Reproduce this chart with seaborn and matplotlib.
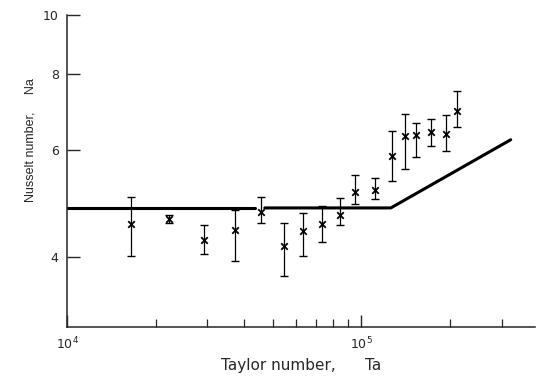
import numpy as np
import pandas as pd
import matplotlib
matplotlib.use("Agg")
import matplotlib.pyplot as plt
import seaborn as sns
from matplotlib.ticker import FixedLocator, NullLocator, LogLocator, FixedFormatter, NullFormatter

# measured points (Taylor number, Nusselt number, error bar limits)
taylor = [1.65e4, 2.22e4, 2.91e4, 3.73e4, 4.55e4, 5.45e4, 6.34e4, 7.38e4, 8.44e4,
          9.55e4, 1.11e5, 1.27e5, 1.41e5, 1.54e5, 1.72e5, 1.94e5, 2.12e5]
nusselt = [4.53, 4.61, 4.26, 4.43, 4.73, 4.16, 4.40, 4.52, 4.69,
           5.11, 5.15, 5.86, 6.31, 6.34, 6.42, 6.37, 6.96]
nu_upper = [5.02, 4.69, 4.50, 4.78, 5.01, 4.54, 4.71, 4.85, 4.99,
            5.45, 5.39, 6.45, 6.88, 6.64, 6.75, 6.85, 7.51]
nu_lower = [4.01, 4.54, 4.04, 3.94, 4.55, 3.72, 4.01, 4.23, 4.50,
            4.89, 4.98, 5.33, 5.58, 5.83, 6.09, 5.98, 6.55]

# theory line (two pieces, small break near 4.5e4 as in the original)
line_ta = [1.0e4, 4.35e4, 4.7e4, 1.26e5, 3.22e5]
line_nu = [4.81, 4.81, 4.81, 4.81, 6.23]
line_seg = [0, 0, 1, 1, 1]

sns.set_style("ticks")
plt.rcParams["font.family"] = ["DejaVu Sans"]

fig = plt.figure(figsize=(5.45, 3.76), dpi=100)
ax = fig.add_axes([0.123, 0.130, 0.859, 0.830])

lines_df = pd.DataFrame({"Ta": line_ta, "Nu": line_nu, "seg": line_seg})
sns.lineplot(data=lines_df, x="Ta", y="Nu", units="seg", estimator=None, sort=False,
             color="black", linewidth=2.2, ax=ax)

pts = pd.DataFrame({"Ta": taylor, "Nu": nusselt})
yerr = np.array([np.array(nusselt) - np.array(nu_lower),
                 np.array(nu_upper) - np.array(nusselt)])
ax.errorbar(taylor, nusselt, yerr=yerr, fmt="none", ecolor="black",
            elinewidth=0.9, capsize=2.6, capthick=1.0)
sns.scatterplot(data=pts, x="Ta", y="Nu", marker="x", color="black", s=22,
                linewidth=1.3, ax=ax, zorder=3)

ax.set_xscale("log")
ax.set_yscale("log")
ax.set_xlim(1e4, 3.9e5)
ax.set_ylim(3.06, 10)

ax.yaxis.set_major_locator(FixedLocator([4, 6, 8, 10]))
ax.yaxis.set_major_formatter(FixedFormatter(["4", "6", "8", "10"]))
ax.yaxis.set_minor_locator(NullLocator())
ax.yaxis.set_minor_formatter(NullFormatter())

ax.xaxis.set_major_locator(FixedLocator([1e4, 1e5]))
ax.xaxis.set_major_formatter(FixedFormatter([r"$10^4$", r"$10^5$"]))
ax.xaxis.set_minor_locator(LogLocator(base=10, subs=np.arange(2, 10)))
ax.xaxis.set_minor_formatter(NullFormatter())

ax.tick_params(which="major", direction="in", length=9, width=1.0, labelsize=9, pad=6)
ax.tick_params(which="minor", direction="in", length=5.5, width=0.9)

sns.despine(ax=ax)
for sp in ["left", "bottom"]:
    ax.spines[sp].set_linewidth(1.1)

ax.set_xlabel("Taylor number,      Ta", fontsize=11, labelpad=6)
ax.set_ylabel("Nusselt number,     Na", fontsize=9, labelpad=12,
              family=["Liberation Sans", "DejaVu Sans"])
ax.yaxis.set_label_coords(-0.065, 0.60)
ax.xaxis.set_label_coords(0.50, -0.10)

fig.savefig("out.png", dpi=100)
